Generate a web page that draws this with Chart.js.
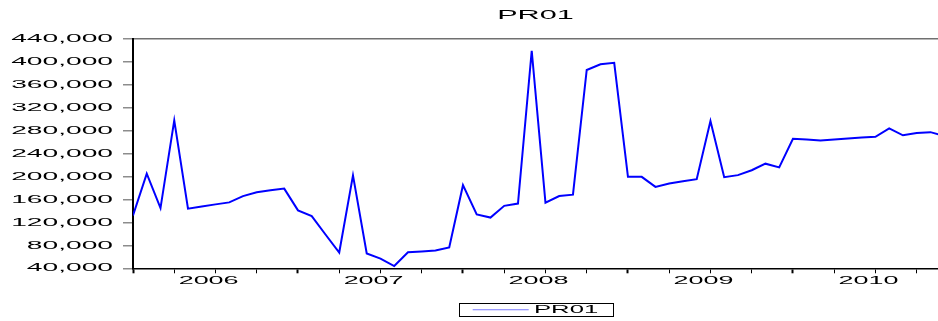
<!DOCTYPE html>
<html>
<head>
<meta charset="utf-8">
<script src="https://cdn.jsdelivr.net/npm/chart.js@4/dist/chart.umd.min.js"></script>
<style>html,body{margin:0;padding:0;background:#fff}canvas{display:block}</style>
</head>
<body>
<canvas id="c" width="938" height="321"></canvas>
<script>
// ---- data ----
const seriesName = 'PR01';
const years = ['2006', '2007', '2008', '2009', '2010'];
const monthCodes = ['01','02','03','04','05','06','07','08','09','10','11','12'];
const periods = years.flatMap(y => monthCodes.map(m => y + 'M' + m));
const pr01 = [
  132000, 205000, 145000, 298000, 144000, 148000, 151500, 155000, 166000, 172500, 176000, 179000,
  141000, 131000,  99000,  67500, 202000,  66000,  57000,  44000,  68000,  69500,  71000,  76500,
  185000, 134000, 128500, 149000, 153000, 419500, 154500, 166000, 168500, 386000, 396000, 398500,
  199500, 199500, 182000, 188000, 192000, 195500, 297000, 199000, 202500, 211000, 222500, 216000,
  266000, 264500, 263000, 264500, 266500, 268000, 269500, 284000, 272000, 276000, 277500, 271000
];
const yTicks = [40000, 80000, 120000, 160000, 200000, 240000, 280000, 320000, 360000, 400000, 440000];

// ---- text stretch (EViews-like wide glyphs) ----
const canvas = document.getElementById('c');
const ctx = canvas.getContext('2d');
const SX = 2.45;
const origFill = ctx.fillText.bind(ctx);
ctx.fillText = function (t, x, y, mw) {
  this.save();
  this.translate(x, y);
  this.scale(SX, 1);
  if (mw !== undefined && mw !== null) origFill(t, 0, 0, mw / SX); else origFill(t, 0, 0);
  this.restore();
};
const origMeasure = ctx.measureText.bind(ctx);
ctx.measureText = function (t) {
  const m = origMeasure(t);
  return {
    width: m.width * SX,
    actualBoundingBoxLeft: m.actualBoundingBoxLeft * SX,
    actualBoundingBoxRight: m.actualBoundingBoxRight * SX,
    actualBoundingBoxAscent: m.actualBoundingBoxAscent,
    actualBoundingBoxDescent: m.actualBoundingBoxDescent,
    fontBoundingBoxAscent: m.fontBoundingBoxAscent,
    fontBoundingBoxDescent: m.fontBoundingBoxDescent
  };
};

const FAM = "'Liberation Sans', Arial, sans-serif";
const xTickPositions = [];
periods.forEach((p, i) => { if (i % 3 === 0) xTickPositions.push(i); });
years.forEach((y, k) => xTickPositions.push(k * 12 + 5.5));
xTickPositions.sort((a, b) => a - b);
const isYearLabel = v => (v - 5.5) % 12 === 0;

const legendFrame = {
  id: 'legendFrame',
  afterDraw(chart) {
    const hb = chart.legend && chart.legend.legendHitBoxes && chart.legend.legendHitBoxes[0];
    if (!hb) return;
    const c = chart.ctx;
    const cy = hb.top + hb.height / 2;
    c.save();
    c.strokeStyle = '#000';
    c.lineWidth = 1;
    c.strokeRect(Math.round(hb.left - 14) + 0.5, Math.round(cy - 7) + 0.5, Math.round(hb.width + 28), 13);
    c.restore();
  }
};

new Chart(ctx, {
  type: 'line',
  data: {
    datasets: [{
      label: seriesName,
      data: pr01.map((v, i) => ({ x: i, y: v })),
      borderColor: '#0000ff',
      borderWidth: 2,
      pointRadius: 0,
      tension: 0,
      fill: false
    }]
  },
  options: {
    responsive: false,
    animation: false,
    devicePixelRatio: 1,
    layout: { padding: { left: 0, right: 0, top: 0, bottom: -4 } },
    plugins: {
      title: {
        display: true, text: seriesName, fullSize: false, color: '#000',
        font: { family: FAM, size: 12.5, weight: 'normal' },
        padding: { top: 8, bottom: 16 }
      },
      legend: {
        display: true, position: 'bottom', fullSize: false,
        labels: {
          usePointStyle: true, pointStyleWidth: 56, color: '#000', padding: 10,
          font: { family: FAM, size: 10.5 },
          generateLabels: (chart) => Chart.defaults.plugins.legend.labels.generateLabels(chart)
            .map(l => Object.assign(l, { pointStyle: 'line', lineWidth: 1, strokeStyle: '#7878ff' }))
        }
      },
      tooltip: { enabled: false }
    },
    scales: {
      x: {
        type: 'linear', min: 0, max: 58.55,
        afterBuildTicks: s => { s.ticks = xTickPositions.map(v => ({ value: v })); },
        afterFit: s => { s.height = s.height + 6; },
        grid: {
          drawOnChartArea: false, drawTicks: true, tickLength: 5,
          tickColor: c => (c.tick && isYearLabel(c.tick.value)) ? 'rgba(0,0,0,0)' : '#000',
          tickWidth: c => (c.tick && c.tick.value % 12 === 0) ? 2 : 1
        },
        border: { color: '#000', width: 1.5 },
        ticks: {
          autoSkip: false, maxRotation: 0, minRotation: 0, padding: 1, color: '#000',
          font: { family: FAM, size: 11 },
          callback: v => isYearLabel(v) ? years[(v - 5.5) / 12] : ''
        }
      },
      y: {
        type: 'linear', min: 40000, max: 440000,
        afterBuildTicks: s => { s.ticks = yTicks.map(v => ({ value: v })); },
        afterFit: s => { s.width = 133; },
        grid: {
          drawOnChartArea: true, drawTicks: true, tickLength: 10,
          color: c => (c.tick && c.tick.value === 440000) ? '#707070' : 'rgba(0,0,0,0)',
          lineWidth: 1.5, tickColor: '#8c8c8c', tickWidth: 1.5
        },
        border: { color: '#000', width: 2 },
        ticks: {
          padding: 10, color: '#000', font: { family: FAM, size: 11.5 },
          callback: v => v.toLocaleString('en-US')
        }
      }
    }
  },
  plugins: [legendFrame]
});
</script>
</body>
</html>
